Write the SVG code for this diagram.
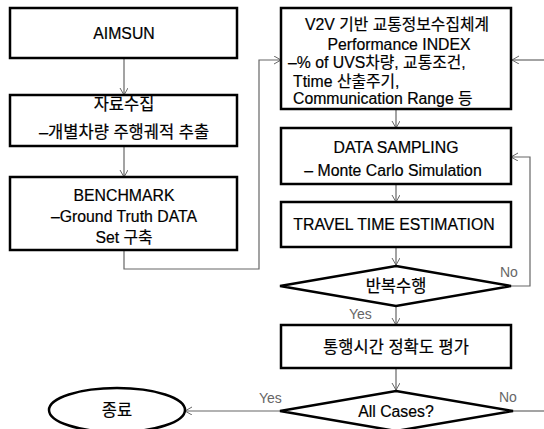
<svg xmlns="http://www.w3.org/2000/svg" width="544" height="429" viewBox="0 0 544 429">
<defs>
<marker id="ah" markerUnits="userSpaceOnUse" markerWidth="10" markerHeight="10" refX="7" refY="4" orient="auto">
<path d="M0,0 L7,4 L0,8" fill="none" stroke="#666" stroke-width="1"/>
</marker>
<style>
.box{fill:#fff;stroke:#000;stroke-width:2.5}
.t{font-family:"Liberation Sans","Noto Sans CJK KR",sans-serif;font-size:15.8px;fill:#000;stroke:#000;stroke-width:0.2;text-anchor:middle}
.k{font-size:16.5px}
.l{text-anchor:start}
.lab{font-family:"Liberation Sans","Noto Sans CJK KR",sans-serif;font-size:14px;fill:#666}
.c{fill:none;stroke:#666;stroke-width:1.2}
</style>
</defs>
<rect width="544" height="429" fill="#fff"/>
<g id="connectors">
<path class="c" d="M124,58 V95" marker-end="url(#ah)"/>
<path class="c" d="M124,146 V177" marker-end="url(#ah)"/>
<path class="c" d="M124,250 V269 H259 V60 H281" marker-end="url(#ah)"/>
<path class="c" d="M396,109 V128" marker-end="url(#ah)"/>
<path class="c" d="M396,184 V202" marker-end="url(#ah)"/>
<path class="c" d="M396,247 V265" marker-end="url(#ah)"/>
<path class="c" d="M511,286 H530 V157 H511" marker-end="url(#ah)"/>
<path class="c" d="M396,306 V325" marker-end="url(#ah)"/>
<path class="c" d="M396,368 V390" marker-end="url(#ah)"/>
<path class="c" d="M280,411 H185" marker-end="url(#ah)"/>
<path class="c" d="M513,411 H544"/>
<path class="c" d="M544,60 H512" marker-end="url(#ah)"/>
<text class="lab" x="500" y="277">No</text>
<text class="lab" x="349" y="319">Yes</text>
<text class="lab" x="259" y="403">Yes</text>
<text class="lab" x="499" y="402">No</text>
</g>
<g id="aimsun">
<rect class="box" x="10" y="8" width="227" height="50"/>
<text class="t" x="124" y="39">AIMSUN</text>
</g>
<g id="collect">
<rect class="box" x="10" y="95" width="227" height="51"/>
<text class="t k" x="124" y="110">자료수집</text>
<text class="t k" x="124" y="138">–개별차량 주행궤적 추출</text>
</g>
<g id="benchmark">
<rect class="box" x="10" y="177" width="227" height="73"/>
<text class="t" x="124" y="201">BENCHMARK</text>
<text class="t" x="124" y="222">–Ground Truth DATA</text>
<text class="t" x="124" y="243">Set  구축</text>
</g>
<g id="v2v">
<rect class="box" x="281" y="8" width="230" height="101"/>
<text class="t" x="397" y="30">V2V 기반 교통정보수집체계</text>
<text class="t" x="399" y="50">Performance INDEX</text>
<text class="t l" x="288" y="68">–% of UVS차량, 교통조건,</text>
<text class="t l" x="293" y="87">Ttime 산출주기,</text>
<text class="t l" x="293" y="104">Communication Range 등</text>
</g>
<g id="sampling">
<rect class="box" x="281" y="128" width="230" height="56"/>
<text class="t" x="396" y="153">DATA SAMPLING</text>
<text class="t" x="393" y="176">– Monte Carlo Simulation</text>
</g>
<g id="travel">
<rect class="box" x="281" y="202" width="230" height="45"/>
<text class="t" x="394" y="230">TRAVEL TIME ESTIMATION</text>
</g>
<g id="repeat">
<polygon class="box" points="396,266 511,286 396,306 280,286"/>
<text class="t k" x="396" y="292">반복수행</text>
</g>
<g id="accuracy">
<rect class="box" x="281" y="325" width="230" height="43"/>
<text class="t k" x="396" y="353">통행시간 정확도 평가</text>
</g>
<g id="allcases">
<polygon class="box" points="396,391 513,411 396,431 280,411"/>
<text class="t" x="396" y="417">All Cases?</text>
</g>
<g id="end">
<ellipse class="box" cx="117" cy="410" rx="68" ry="22"/>
<text class="t k" x="117" y="416">종료</text>
</g>
</svg>
